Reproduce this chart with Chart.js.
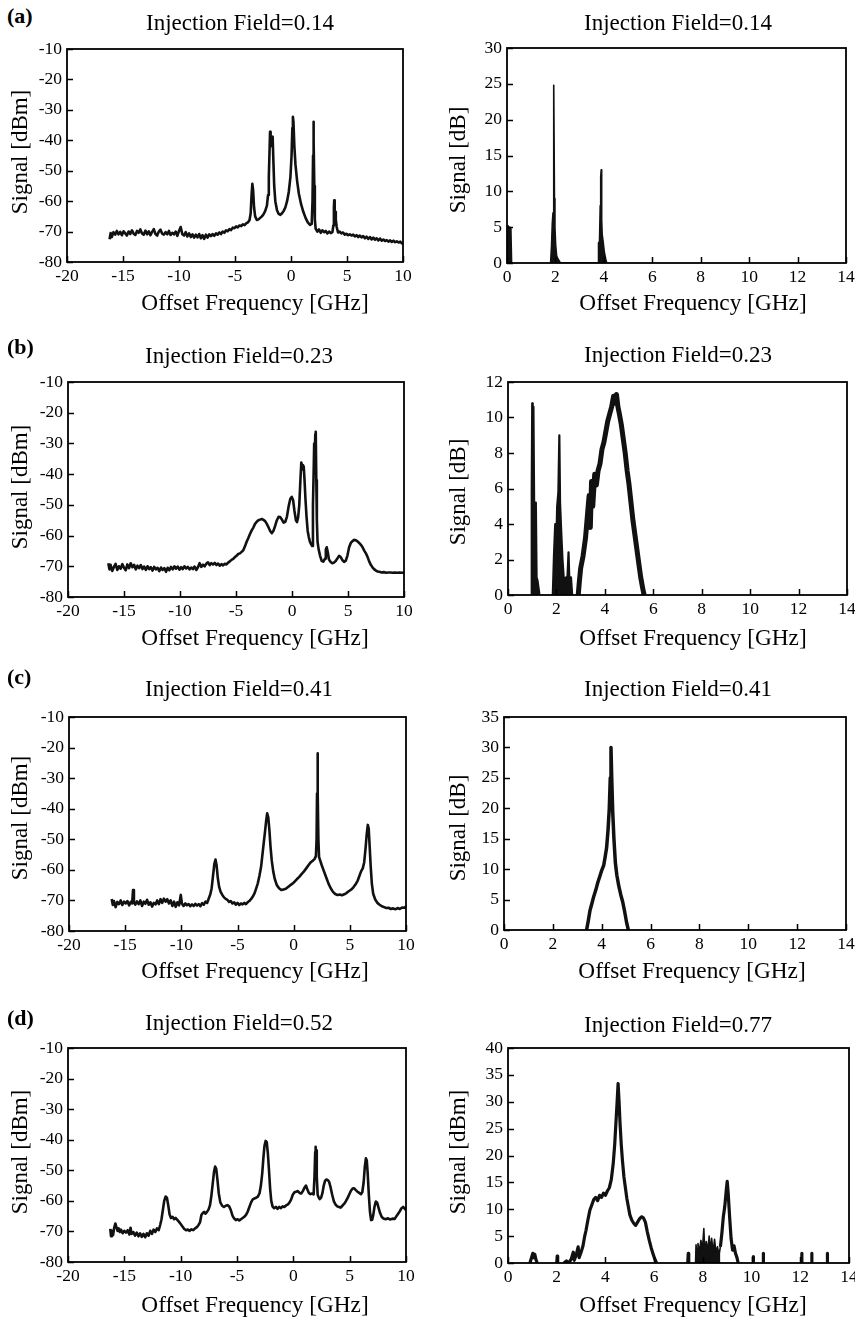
<!DOCTYPE html>
<html><head><meta charset="utf-8">
<script src="https://cdn.jsdelivr.net/npm/chart.js@4.4.1/dist/chart.umd.min.js"></script>
<style>
html,body{margin:0;padding:0;background:#fff;}
body{width:855px;height:1319px;position:relative;overflow:hidden;font-family:"Liberation Serif","Times New Roman",serif;color:#000;}
canvas{position:absolute;}
.t{position:absolute;white-space:nowrap;line-height:1;transform:translateX(-50%);font-size:23px;}
.ax{position:absolute;white-space:nowrap;line-height:1;transform:translateX(-50%);font-size:23.3px;}
.yl{position:absolute;white-space:nowrap;line-height:1;transform:translate(-50%,-50%) rotate(-90deg);font-size:23px;}
.lab{position:absolute;font-weight:bold;line-height:1;font-size:22px;left:7px;}
</style></head><body>
<script>
// ---------- tick labels ----------
const xTicksLeft = [-20,-15,-10,-5,0,5,10];
const yTicksLeft = [-80,-70,-60,-50,-40,-30,-20,-10];
const xTicksRight = [0,2,4,6,8,10,12,14];
const yTicksAR = [0,5,10,15,20,25,30];
const yTicksBR = [0,2,4,6,8,10,12];
const yTicksCR = [0,5,10,15,20,25,30,35];
const yTicksDR = [0,5,10,15,20,25,30,35,40];

// ---------- (a) left: injection 0.14, signal dBm ----------
const aFreq = [-16.2,-16.1,-16.0,-15.85,-15.7,-15.55,-15.4,-15.25,-15.1,-14.95,-14.8,-14.65,-14.5,-14.35,-14.2,-14.05,-13.9,-13.75,-13.6,-13.45,-13.3,-13.15,-13.0,-12.85,-12.7,-12.55,-12.4,-12.25,-12.1,-11.95,-11.8,-11.65,-11.5,-11.35,-11.2,-11.05,-10.9,-10.75,-10.6,-10.45,-10.3,-10.15,-10.0,-9.85,-9.7,-9.55,-9.4,-9.25,-9.1,-8.95,-8.8,-8.65,-8.5,-8.35,-8.2,-8.05,-7.9,-7.75,-7.6,-7.45,-7.3,-7.15,-7.0,-6.85,-6.7,-6.55,-6.4,-6.25,-6.1,-5.95,-5.8,-5.65,-5.5,-5.35,-5.2,-5.05,-4.9,-4.75,-4.6,-4.45,-4.3,-4.15,-4.0,-3.85,-3.7,-3.6,-3.52,-3.45,-3.38,-3.3,-3.2,-3.05,-2.9,-2.75,-2.6,-2.45,-2.3,-2.15,-2.05,-1.98,-1.92,-1.87,-1.82,-1.76,-1.7,-1.64,-1.58,-1.5,-1.4,-1.25,-1.1,-0.95,-0.8,-0.65,-0.5,-0.35,-0.2,-0.05,0.05,0.12,0.17,0.22,0.3,0.4,0.55,0.7,0.9,1.1,1.3,1.5,1.7,1.85,1.92,1.97,2.0,2.04,2.08,2.13,2.2,2.35,2.5,2.65,2.8,2.95,3.1,3.25,3.4,3.55,3.7,3.78,3.83,3.86,3.9,3.95,4.0,4.08,4.2,4.35,4.5,4.65,4.8,4.95,5.1,5.25,5.4,5.55,5.7,5.85,6.0,6.15,6.3,6.45,6.6,6.75,6.9,7.05,7.2,7.35,7.5,7.65,7.8,7.95,8.1,8.25,8.4,8.55,8.7,8.85,9.0,9.15,9.3,9.45,9.6,9.75,9.9,10.0];
const aSig = [-72.5,-70.5,-71.8,-70.2,-71.0,-69.8,-70.9,-70.1,-71.2,-69.9,-70.6,-71.3,-70.0,-70.8,-69.6,-70.7,-71.1,-69.8,-70.4,-69.3,-70.6,-71.0,-69.7,-70.9,-69.9,-71.2,-70.1,-69.2,-70.8,-71.3,-70.0,-69.4,-70.7,-71.0,-70.2,-70.9,-69.8,-71.1,-70.4,-70.9,-70.0,-71.4,-69.8,-68.5,-70.9,-71.3,-70.2,-71.6,-70.6,-71.8,-70.9,-72.0,-71.0,-71.9,-70.8,-72.2,-71.2,-72.4,-71.0,-72.0,-70.9,-71.5,-70.8,-71.4,-70.6,-71.0,-70.3,-70.8,-70.0,-70.4,-69.6,-69.9,-69.2,-69.5,-68.7,-68.9,-68.3,-68.6,-68.0,-68.2,-67.6,-67.9,-67.3,-67.0,-66.2,-64.0,-58.0,-54.3,-56.5,-62.0,-65.0,-66.2,-66.0,-65.5,-65.0,-64.3,-63.2,-61.5,-58.0,-52.0,-44.0,-37.2,-42.0,-40.5,-39.0,-38.8,-46.0,-55.0,-60.0,-63.0,-64.2,-64.5,-64.0,-63.2,-62.0,-60.0,-57.0,-52.0,-45.0,-36.0,-32.3,-34.0,-42.0,-48.0,-53.5,-57.5,-61.0,-63.5,-65.5,-67.0,-67.8,-67.5,-60.0,-45.0,-33.9,-40.0,-55.0,-66.0,-69.0,-70.0,-69.3,-70.4,-69.6,-70.2,-69.8,-70.6,-70.0,-70.5,-70.2,-68.0,-62.0,-59.7,-64.0,-63.5,-66.0,-68.5,-70.3,-70.0,-70.6,-70.3,-71.0,-70.7,-71.2,-70.9,-71.3,-71.0,-71.6,-71.2,-71.8,-71.3,-71.9,-71.5,-72.2,-71.7,-72.4,-71.8,-72.6,-72.0,-72.7,-72.2,-72.9,-72.3,-73.0,-72.6,-73.1,-72.8,-73.3,-72.9,-73.4,-73.0,-73.5,-73.2,-73.6,-73.3,-73.9,-73.7];

// ---------- (b) left: injection 0.23 ----------
const bFreq = [-16.4,-16.3,-16.2,-16.05,-15.9,-15.75,-15.6,-15.45,-15.3,-15.15,-15.0,-14.85,-14.7,-14.55,-14.4,-14.25,-14.1,-13.95,-13.8,-13.65,-13.5,-13.35,-13.2,-13.05,-12.9,-12.75,-12.6,-12.45,-12.3,-12.15,-12.0,-11.85,-11.7,-11.55,-11.4,-11.25,-11.1,-10.95,-10.8,-10.65,-10.5,-10.35,-10.2,-10.05,-9.9,-9.75,-9.6,-9.45,-9.3,-9.15,-9.0,-8.85,-8.7,-8.55,-8.4,-8.25,-8.1,-7.95,-7.8,-7.65,-7.5,-7.35,-7.2,-7.05,-6.9,-6.75,-6.6,-6.45,-6.3,-6.15,-6.0,-5.85,-5.7,-5.55,-5.4,-5.25,-5.1,-4.95,-4.8,-4.65,-4.5,-4.35,-4.2,-4.05,-3.9,-3.75,-3.6,-3.45,-3.3,-3.15,-3.0,-2.85,-2.7,-2.55,-2.4,-2.25,-2.1,-1.95,-1.8,-1.65,-1.5,-1.35,-1.2,-1.05,-0.9,-0.75,-0.6,-0.45,-0.3,-0.15,-0.02,0.1,0.22,0.35,0.45,0.55,0.65,0.75,0.83,0.9,0.97,1.05,1.12,1.2,1.3,1.4,1.5,1.6,1.7,1.8,1.87,1.93,1.98,2.03,2.08,2.12,2.17,2.22,2.28,2.38,2.5,2.65,2.8,2.95,3.02,3.1,3.2,3.3,3.45,3.6,3.75,3.9,4.05,4.2,4.35,4.5,4.65,4.8,4.95,5.1,5.25,5.4,5.55,5.7,5.85,6.0,6.15,6.3,6.45,6.6,6.75,6.9,7.05,7.2,7.35,7.5,7.65,7.8,8.0,8.2,8.4,8.6,8.8,9.0,9.2,9.4,9.6,9.8,10.0];
const bSig = [-69.0,-71.0,-69.5,-71.5,-70.2,-69.2,-71.2,-70.0,-70.8,-69.3,-70.5,-71.3,-69.4,-70.6,-69.0,-70.3,-69.5,-71.0,-69.8,-70.6,-69.6,-70.9,-70.1,-71.2,-70.0,-70.9,-70.3,-71.4,-70.2,-71.0,-70.5,-71.6,-70.4,-71.2,-70.6,-71.8,-70.5,-71.3,-70.2,-71.0,-70.0,-70.8,-70.1,-71.1,-70.3,-70.9,-70.0,-70.7,-70.2,-71.0,-70.4,-70.9,-70.1,-71.2,-70.3,-69.0,-70.2,-69.5,-70.0,-69.2,-68.7,-69.6,-69.0,-69.4,-68.9,-69.6,-69.1,-69.8,-69.3,-69.7,-69.2,-69.4,-68.8,-68.4,-67.9,-67.6,-67.0,-66.6,-66.0,-65.8,-65.3,-64.8,-63.5,-62.0,-60.8,-59.5,-58.3,-57.4,-56.2,-55.5,-55.0,-54.8,-54.6,-54.9,-55.3,-56.2,-57.3,-58.5,-59.2,-58.4,-56.8,-55.0,-53.9,-54.0,-54.8,-55.8,-55.5,-53.8,-50.5,-48.0,-47.4,-48.5,-52.0,-55.0,-55.6,-54.0,-50.0,-42.0,-36.2,-38.5,-37.0,-37.6,-42.0,-48.0,-54.0,-58.5,-60.5,-62.0,-62.8,-63.4,-50.0,-40.0,-30.0,-34.0,-27.0,-26.2,-42.0,-55.0,-62.0,-64.5,-66.5,-68.2,-68.5,-67.5,-64.5,-63.8,-65.5,-67.8,-68.6,-69.0,-68.8,-68.3,-67.5,-66.6,-67.0,-68.0,-68.6,-68.2,-66.5,-63.8,-62.4,-61.8,-61.4,-61.5,-61.9,-62.4,-63.0,-63.8,-64.9,-65.8,-67.0,-68.5,-69.6,-70.4,-71.0,-71.4,-71.7,-71.8,-72.0,-71.9,-72.1,-72.0,-72.0,-72.1,-72.0,-72.1,-72.0,-72.1,-72.0];

// ---------- (c) left: injection 0.41 ----------
const cFreq = [-16.2,-16.1,-16.0,-15.85,-15.7,-15.55,-15.4,-15.25,-15.1,-14.95,-14.8,-14.65,-14.5,-14.38,-14.3,-14.22,-14.1,-13.95,-13.8,-13.65,-13.5,-13.35,-13.2,-13.05,-12.9,-12.75,-12.6,-12.45,-12.3,-12.15,-12.0,-11.85,-11.7,-11.55,-11.4,-11.25,-11.1,-10.95,-10.8,-10.65,-10.5,-10.35,-10.2,-10.05,-9.95,-9.8,-9.65,-9.5,-9.35,-9.2,-9.05,-8.9,-8.75,-8.6,-8.45,-8.3,-8.15,-8.0,-7.85,-7.7,-7.55,-7.42,-7.3,-7.18,-7.06,-6.96,-6.86,-6.76,-6.64,-6.5,-6.35,-6.2,-6.05,-5.9,-5.75,-5.6,-5.45,-5.3,-5.15,-5.0,-4.85,-4.7,-4.55,-4.4,-4.25,-4.1,-3.95,-3.8,-3.65,-3.5,-3.35,-3.2,-3.05,-2.9,-2.78,-2.66,-2.55,-2.45,-2.36,-2.26,-2.16,-2.06,-1.95,-1.82,-1.68,-1.5,-1.3,-1.1,-0.9,-0.7,-0.5,-0.3,-0.1,0.1,0.3,0.5,0.7,0.9,1.1,1.3,1.5,1.7,1.85,1.98,2.04,2.08,2.12,2.16,2.2,2.26,2.35,2.5,2.65,2.8,2.95,3.1,3.3,3.5,3.7,3.9,4.1,4.3,4.5,4.7,4.9,5.1,5.3,5.5,5.7,5.85,6.0,6.15,6.28,6.4,6.5,6.6,6.68,6.76,6.86,6.96,7.08,7.25,7.45,7.65,7.85,8.05,8.25,8.45,8.65,8.85,9.05,9.25,9.45,9.65,9.85,10.0];
const cSig = [-69.5,-71.5,-70.2,-72.2,-70.5,-71.2,-70.0,-71.5,-70.4,-71.0,-70.2,-71.6,-70.5,-71.0,-66.6,-70.6,-71.4,-70.3,-71.2,-70.0,-71.8,-70.4,-71.1,-69.8,-71.4,-70.6,-72.0,-70.8,-71.3,-70.0,-71.2,-69.6,-70.8,-69.4,-70.4,-69.6,-71.0,-70.0,-71.8,-70.4,-72.1,-70.6,-71.6,-68.2,-71.0,-71.8,-71.0,-71.6,-71.2,-71.9,-71.3,-71.8,-71.1,-71.7,-71.2,-71.9,-70.9,-71.4,-70.4,-70.8,-69.3,-68.0,-66.0,-62.0,-58.0,-56.6,-58.5,-62.5,-65.5,-67.2,-68.2,-69.0,-69.5,-69.8,-70.5,-70.2,-71.0,-70.6,-71.4,-70.8,-71.5,-71.0,-71.3,-70.8,-71.2,-70.6,-70.2,-69.6,-68.8,-67.8,-66.2,-64.5,-62.0,-59.0,-55.0,-51.0,-47.5,-44.0,-41.5,-42.8,-47.0,-52.5,-57.0,-60.5,-63.0,-65.0,-66.0,-66.6,-66.4,-66.2,-65.6,-65.0,-64.5,-63.8,-63.0,-62.3,-61.4,-60.6,-59.6,-58.6,-57.6,-57.0,-56.5,-55.5,-50.0,-35.0,-21.9,-35.0,-50.0,-55.8,-56.8,-58.5,-60.0,-61.5,-63.0,-64.5,-66.0,-67.2,-67.9,-68.2,-68.1,-68.3,-68.0,-67.6,-67.0,-66.5,-65.8,-64.8,-63.5,-62.0,-60.5,-59.5,-57.5,-53.0,-48.5,-45.3,-46.5,-52.0,-59.0,-64.5,-67.8,-69.6,-70.8,-71.4,-71.9,-72.2,-72.5,-72.4,-72.8,-72.6,-72.9,-72.5,-72.8,-72.3,-72.4,-72.0];

// ---------- (d) left: injection 0.52 ----------
const dFreq = [-16.25,-16.18,-16.1,-16.0,-15.9,-15.8,-15.7,-15.6,-15.5,-15.4,-15.3,-15.15,-15.0,-14.85,-14.7,-14.55,-14.45,-14.35,-14.2,-14.05,-13.9,-13.75,-13.6,-13.45,-13.3,-13.15,-13.0,-12.85,-12.7,-12.55,-12.4,-12.25,-12.1,-11.95,-11.82,-11.7,-11.58,-11.46,-11.34,-11.22,-11.1,-10.98,-10.86,-10.72,-10.58,-10.44,-10.3,-10.16,-10.0,-9.84,-9.68,-9.52,-9.36,-9.2,-9.04,-8.88,-8.72,-8.56,-8.4,-8.28,-8.16,-8.04,-7.92,-7.8,-7.66,-7.52,-7.4,-7.28,-7.16,-7.04,-6.94,-6.84,-6.74,-6.62,-6.48,-6.32,-6.16,-6.0,-5.85,-5.7,-5.55,-5.4,-5.25,-5.1,-4.95,-4.8,-4.65,-4.5,-4.35,-4.2,-4.05,-3.9,-3.75,-3.6,-3.45,-3.3,-3.15,-3.0,-2.88,-2.76,-2.66,-2.56,-2.46,-2.36,-2.26,-2.16,-2.06,-1.96,-1.84,-1.7,-1.55,-1.4,-1.25,-1.1,-0.95,-0.8,-0.65,-0.5,-0.35,-0.2,-0.05,0.1,0.25,0.4,0.55,0.7,0.85,1.0,1.12,1.24,1.38,1.52,1.66,1.8,1.88,1.94,1.98,2.02,2.06,2.1,2.16,2.24,2.34,2.46,2.58,2.7,2.82,2.94,3.06,3.18,3.3,3.45,3.6,3.75,3.9,4.05,4.2,4.35,4.5,4.65,4.8,4.95,5.1,5.25,5.4,5.55,5.7,5.85,6.0,6.12,6.24,6.34,6.44,6.52,6.6,6.7,6.8,6.9,7.0,7.1,7.2,7.32,7.44,7.56,7.7,7.85,8.0,8.2,8.4,8.6,8.8,9.0,9.15,9.3,9.45,9.6,9.75,9.9,10.0];
const dSig = [-69.2,-71.6,-69.8,-71.2,-68.8,-67.4,-68.6,-69.8,-69.0,-70.2,-69.4,-70.6,-69.8,-70.4,-69.6,-71.0,-68.8,-70.8,-70.2,-71.4,-70.4,-71.6,-70.6,-71.8,-70.8,-71.9,-70.6,-71.4,-69.8,-70.8,-69.4,-70.2,-69.0,-69.6,-67.9,-66.0,-63.0,-60.0,-58.6,-59.0,-61.5,-64.5,-65.6,-65.2,-66.0,-65.6,-66.2,-66.8,-67.6,-68.4,-69.2,-69.6,-69.4,-69.8,-69.3,-69.6,-69.0,-68.6,-67.8,-67.0,-64.6,-64.0,-63.6,-64.2,-63.6,-62.8,-61.5,-58.5,-54.5,-50.5,-48.8,-49.6,-53.0,-57.5,-60.5,-61.6,-62.0,-61.6,-61.4,-61.8,-63.0,-64.8,-65.8,-66.3,-66.0,-66.4,-66.0,-65.6,-65.2,-64.6,-63.5,-62.0,-60.5,-59.5,-59.2,-59.0,-58.6,-57.5,-55.0,-51.0,-46.0,-42.0,-40.4,-40.8,-44.5,-50.0,-56.0,-60.0,-61.9,-62.4,-62.0,-62.6,-62.0,-62.4,-61.8,-62.0,-61.5,-61.2,-60.6,-59.6,-58.0,-57.2,-57.0,-56.8,-57.4,-57.6,-56.8,-55.6,-55.0,-56.2,-57.4,-57.8,-57.6,-57.9,-52.0,-44.0,-42.3,-50.0,-43.5,-52.0,-58.0,-58.8,-59.4,-59.0,-57.5,-55.0,-53.4,-53.0,-53.2,-53.8,-55.5,-58.0,-60.2,-61.2,-61.8,-62.0,-62.2,-61.6,-61.0,-60.2,-59.2,-58.0,-56.8,-56.0,-55.9,-56.5,-57.0,-57.4,-57.8,-57.2,-54.0,-49.0,-46.1,-46.8,-51.0,-58.0,-63.5,-66.3,-66.2,-64.5,-62.0,-60.2,-60.6,-62.2,-64.0,-65.3,-65.8,-66.0,-65.7,-66.1,-65.8,-65.9,-65.0,-64.2,-63.4,-62.4,-62.0,-62.6,-63.0];

// ---------- (a) right: injection 0.14, signal dB ----------
const aRFreq = [0.0,0.03,0.05,0.09,0.12,0.16,0.19,0.3, 1.8,1.84,1.87,1.9,1.92,1.94,1.96,1.98,2.01,2.05,2.1,2.16,2.2, 3.76,3.78,3.82,3.85,3.87,3.89,3.91,3.93,3.97,4.02,4.08,4.12];
const aRSig  = [0,0,5.2,4.2,5.0,4.8,0,null, 0,2.5,5.5,7.0,12.0,24.8,9.0,5.0,2.5,1.0,0.6,0.3,0, 0,2.8,3.0,8.0,12.0,13.0,6.0,4.0,3.0,1.5,0.5,0];

// ---------- (b) right: injection 0.23 ----------
const bRSpikeFreq = [0.95,0.98,1.0,1.02,1.05,1.08,1.12,1.15,1.18,1.22,1.27,1.3,1.5, 1.85,1.9,1.95,1.98,2.03,2.08,2.12,2.15,2.2,2.25,2.3,2.35,2.4,2.45,2.5,2.53,2.6,2.65];
const bRSpikeSig  = [0,6,10.8,3,10.6,5,2,5.2,1,0.8,0.3,0,null, 0,2.3,4.0,2.0,5.0,5.8,9.0,5.2,3.5,2.0,1.0,0.5,1.0,0.8,2.4,1.0,1.0,0];
const bRBandFreq = [2.9,2.95,3.0,3.1,3.2,3.3,3.35,3.4,3.45,3.5,3.58,3.65,3.72,3.8,3.88,3.96,4.04,4.12,4.2,4.28,4.36,4.42,4.48,4.54,4.6,4.68,4.76,4.84,4.92,5.0,5.08,5.16,5.24,5.32,5.4,5.48,5.56,5.62];
const bRBandSig  = [0,0.8,1.5,2.2,3.2,4.8,5.6,3.8,6.4,5.0,6.8,6.2,7.0,7.4,8.2,8.6,9.2,9.8,10.2,10.6,11.2,10.8,11.3,10.6,10.2,9.6,8.8,8.0,7.0,6.2,5.2,4.2,3.4,2.6,1.8,1.0,0.4,0];

// ---------- (c) right: injection 0.41 ----------
const cRFreq = [3.38,3.45,3.52,3.6,3.68,3.76,3.84,3.92,4.0,4.08,4.14,4.2,4.26,4.31,4.35,4.38,4.41,4.45,4.5,4.56,4.62,4.7,4.78,4.86,4.94,5.02,5.09];
const cRSig  = [0,1.5,3.2,4.4,5.6,6.6,7.8,8.8,9.8,10.6,12.0,13.5,16.5,20.0,25.0,30.0,25.0,19.5,15.0,11.0,9.0,7.2,5.8,4.6,3.0,1.2,0];

// ---------- (d) right: injection 0.77 ----------
const dRFreq = [0.9,0.98,1.02,1.06,1.1,1.15,1.2,1.5, 2.0,2.02,2.04,2.2, 2.3,2.4,2.5,2.6,2.68,2.72,2.8,2.88,2.92,3.0,3.08,3.14,3.2,3.28,3.36,3.44,3.52,3.6,3.68,3.76,3.84,3.92,4.0,4.08,4.16,4.24,4.32,4.38,4.43,4.48,4.52,4.56,4.6,4.65,4.7,4.76,4.82,4.88,4.94,5.0,5.08,5.16,5.24,5.32,5.4,5.48,5.56,5.64,5.72,5.8,5.88,5.96,6.04,6.1,7.0, 7.38,7.4,7.42,7.5, 8.72,8.78,8.84,8.9,8.96,9.0,9.04,9.1,9.16,9.22,9.28,9.34,9.4,9.45,9.8, 10.06,10.07,10.08,10.3, 10.47,10.48,10.49,11.0, 12.05,12.06,12.07,12.3, 12.46,12.47,12.48,12.8, 13.1,13.11,13.12];
const dRSig  = [0,1.2,1.8,1.0,1.6,0.6,0,null, 0,1.3,0,null, 0,0.4,0,0.8,2.0,0.5,1.5,3.0,1.0,2.0,3.2,4.8,6.0,8.0,9.8,10.8,11.8,12.2,11.6,12.6,12.2,13.0,12.6,13.4,14.0,15.5,18.5,22.0,26.0,30.0,33.4,30.0,26.0,22.0,19.0,16.0,14.0,12.0,10.5,9.0,8.0,7.4,7.0,7.6,8.2,8.6,8.4,7.6,5.8,4.2,2.8,1.6,0.6,0,null, 0,1.8,0,null, 3.0,5.5,8.6,10.5,13.5,15.2,13.0,8.5,4.5,2.4,3.2,1.8,1.0,0,null, 0,1.2,0,null, 0,1.8,0,null, 0,1.8,0,null, 0,1.8,0,null, 0,1.8,0];
const dRClusterFreq = [7.7,7.72,7.76,7.8,7.86,7.92,7.98,8.04,8.08,8.14,8.2,8.26,8.3,8.36,8.42,8.48,8.54,8.6,8.66,8.72];
const dRClusterSig  = [0,3.4,1.0,3.6,2.0,4.2,2.4,6.4,2.0,4.0,2.2,5.0,2.0,4.6,2.0,4.4,2.0,3.0,1.5,3.0];

// ---------- layout (plot-area boxes, not data) ----------
const INK = '#111111';
const FONT = '"Liberation Serif", "Times New Roman", serif';

function pts(xs, ys){ return xs.map((x,i)=>({x:x, y:ys[i]})); }

const frame = {
  id:'frame',
  afterDatasetsDraw(chart){
    const {ctx, chartArea:a, scales:{x,y}} = chart;
    ctx.save();
    ctx.strokeStyle = '#000';
    ctx.lineWidth = 1.8;
    ctx.strokeRect(a.left, a.top, a.right-a.left, a.bottom-a.top);
    ctx.lineWidth = 1.5;
    ctx.beginPath();
    x.ticks.forEach(t=>{ const p = Math.round(x.getPixelForValue(t.value))+0.5; ctx.moveTo(p, a.bottom); ctx.lineTo(p, a.bottom-6); });
    y.ticks.forEach(t=>{ const p = Math.round(y.getPixelForValue(t.value))+0.5; ctx.moveTo(a.left, p); ctx.lineTo(a.left+6, p); });
    ctx.stroke();
    ctx.restore();
  }
};

function panel(box, xr, yr, xt, yt, datasets){
  const [L,T,R,B] = box;
  const x0 = L < 430 ? 0 : 430;
  const w = L < 430 ? 430 : 425;
  const padTop = 20, xh = 40;
  const cv = document.createElement('canvas');
  cv.width = w; cv.height = (B-T) + padTop + xh;
  cv.style.left = x0+'px'; cv.style.top = (T-padTop)+'px';
  cv.style.width = w+'px'; cv.style.height = cv.height+'px';
  document.body.appendChild(cv);
  const tickFont = {family:FONT, size:17.5};
  new Chart(cv, {
    type:'line',
    data:{datasets},
    options:{
      responsive:false, animation:false, devicePixelRatio:1,
      layout:{padding:{left:0, top:padTop, right:(x0+w)-R, bottom:0}},
      plugins:{legend:{display:false}, tooltip:{enabled:false}, title:{display:false}},
      elements:{point:{radius:0}, line:{tension:0}},
      scales:{
        x:{type:'linear', min:xr[0], max:xr[1],
           afterBuildTicks:s=>{ s.ticks = xt.map(v=>({value:v})); },
           ticks:{autoSkip:false, maxRotation:0, padding:4, color:'#000', font:tickFont, callback:v=>String(v)},
           grid:{display:false, drawTicks:false}, border:{display:false},
           afterFit:s=>{ s.height = xh; s.paddingLeft = 0; s.paddingRight = 0; }},
        y:{type:'linear', min:yr[0], max:yr[1],
           afterBuildTicks:s=>{ s.ticks = yt.map(v=>({value:v})); },
           ticks:{autoSkip:false, padding:5, color:'#000', font:tickFont, callback:v=>String(v)},
           grid:{display:false, drawTicks:false}, border:{display:false},
           afterFit:s=>{ s.width = L - x0; s.paddingTop = 0; s.paddingBottom = 0; }}
      }
    },
    plugins:[frame]
  });
}

function lineDs(xs, ys, width, fill){
  return {data:pts(xs,ys), borderColor:INK, backgroundColor:INK, borderWidth:width, fill:fill?'origin':false, spanGaps:false, pointRadius:0, borderJoinStyle:'round'};
}

panel([67,49,403,262],   [-20,10], [-80,-10], xTicksLeft, yTicksLeft, [lineDs(aFreq,aSig,2.6,false)]);
panel([507,48,846,263],  [0,14], [0,30], xTicksRight, yTicksAR, [lineDs(aRFreq,aRSig,1.6,true)]);
panel([68,382,404,597],  [-20,10], [-80,-10], xTicksLeft, yTicksLeft, [lineDs(bFreq,bSig,2.6,false)]);
panel([508,382,847,595], [0,14], [0,12], xTicksRight, yTicksBR, [lineDs(bRSpikeFreq,bRSpikeSig,2.2,true), lineDs(bRBandFreq,bRBandSig,5,false)]);
panel([69,717,406,931],  [-20,10], [-80,-10], xTicksLeft, yTicksLeft, [lineDs(cFreq,cSig,2.6,false)]);
panel([504,717,846,930], [0,14], [0,35], xTicksRight, yTicksCR, [lineDs(cRFreq,cRSig,3.5,false)]);
panel([68,1048,406,1262],[-20,10], [-80,-10], xTicksLeft, yTicksLeft, [lineDs(dFreq,dSig,2.6,false)]);
panel([508,1048,849,1263],[0,14], [0,40], xTicksRight, yTicksDR, [lineDs(dRFreq,dRSig,3.2,false), lineDs(dRClusterFreq,dRClusterSig,1.6,true)]);

// ---------- texts ----------
const texts = [
  ['lab','(a)',7,4.6],['lab','(b)',7,335.6],['lab','(c)',7,665.6],['lab','(d)',7,1006.6],
  ['t','Injection Field=0.14',240,10.8],['t','Injection Field=0.14',678,10.8],
  ['t','Injection Field=0.23',239,343.8],['t','Injection Field=0.23',678,342.8],
  ['t','Injection Field=0.41',239,676.8],['t','Injection Field=0.41',678,676.8],
  ['t','Injection Field=0.52',239,1010.8],['t','Injection Field=0.77',678,1012.8],
  ['ax','Offset Frequency [GHz]',255,290.5],['ax','Offset Frequency [GHz]',693,290.5],
  ['ax','Offset Frequency [GHz]',255,625.5],['ax','Offset Frequency [GHz]',693,625.5],
  ['ax','Offset Frequency [GHz]',255,958.5],['ax','Offset Frequency [GHz]',692,958.5],
  ['ax','Offset Frequency [GHz]',255,1292.5],['ax','Offset Frequency [GHz]',693,1292.5],
  ['yl','Signal [dBm]',18.5,152],['yl','Signal [dB]',456.5,160],
  ['yl','Signal [dBm]',18.5,487],['yl','Signal [dB]',456.5,492],
  ['yl','Signal [dBm]',18.5,818],['yl','Signal [dB]',456.5,828],
  ['yl','Signal [dBm]',18.5,1152],['yl','Signal [dBm]',456.5,1152]
];
texts.forEach(([c,s,x,y])=>{
  const d = document.createElement('div');
  d.className = c; d.textContent = s;
  d.style.left = x+'px'; d.style.top = y+'px';
  document.body.appendChild(d);
});
</script>
</body></html>
